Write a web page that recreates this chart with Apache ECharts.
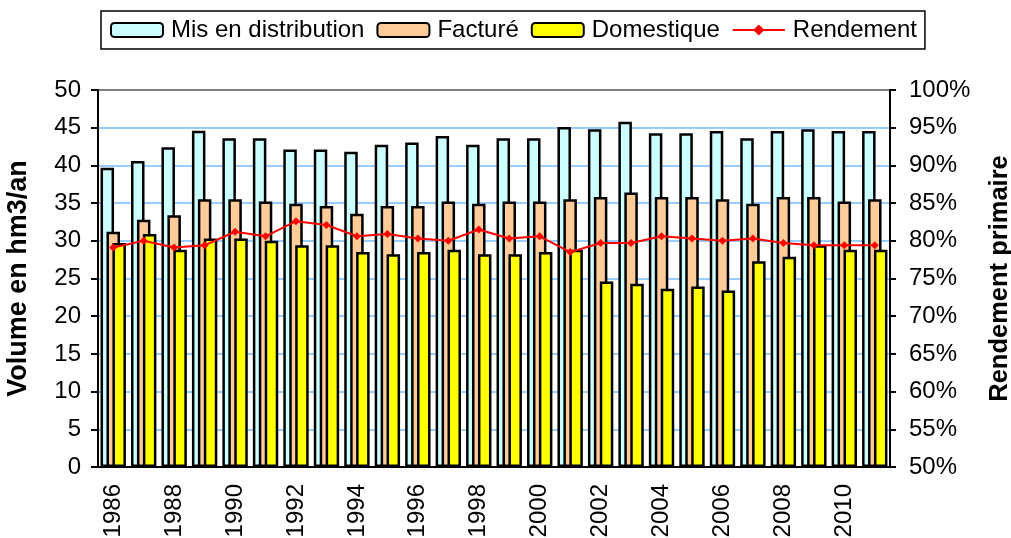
<!DOCTYPE html>
<html>
<head>
<meta charset="utf-8">
<script src="https://cdn.jsdelivr.net/npm/echarts@6/dist/echarts.min.js"></script>
<style>
html,body{margin:0;padding:0;background:#fff;}
#chart{width:1011px;height:538px;}
</style>
</head>
<body>
<div id="chart"></div>
<script>
const years = ['1986','1987','1988','1989','1990','1991','1992','1993','1994','1995','1996','1997','1998','1999','2000','2001','2002','2003','2004','2005','2006','2007','2008','2009','2010','2011'];
const misEnDistribution = [39.7, 40.6, 42.4, 44.6, 43.6, 43.6, 42.1, 42.1, 41.8, 42.75, 43.05, 43.9, 42.75, 43.6, 43.6, 45.1, 44.8, 45.8, 44.25, 44.25, 44.55, 43.6, 44.55, 44.8, 44.55, 44.55];
const facture = [31.2, 32.8, 33.4, 35.5, 35.5, 35.2, 34.9, 34.6, 33.6, 34.6, 34.6, 35.2, 34.9, 35.2, 35.2, 35.5, 35.8, 36.4, 35.8, 35.8, 35.5, 34.9, 35.8, 35.8, 35.2, 35.5];
const domestique = [29.7, 30.9, 28.8, 30.3, 30.3, 30.0, 29.4, 29.4, 28.5, 28.2, 28.5, 28.8, 28.2, 28.2, 28.5, 28.8, 24.6, 24.3, 23.65, 23.95, 23.4, 27.3, 27.9, 29.4, 28.8, 28.8];
const rendement = [79.1, 80.0, 79.1, 79.4, 81.2, 80.6, 82.6, 82.1, 80.6, 80.9, 80.3, 80.0, 81.5, 80.3, 80.6, 78.5, 79.7, 79.7, 80.6, 80.3, 80.0, 80.3, 79.7, 79.4, 79.4, 79.4];

const FONT = '"Liberation Sans", Arial, sans-serif';
const chart = echarts.init(document.getElementById('chart'), null, {renderer: 'canvas'});

function barSeries(name, data, color) {
  return {
    name: name, type: 'bar', data: data, yAxisIndex: 0,
    barWidth: 13.5, barGap: '-56%',
    itemStyle: {color: color, borderColor: '#000', borderWidth: 2.5},
    emphasis: {disabled: true}
  };
}

chart.setOption({
  animation: false,
  backgroundColor: '#fff',
  textStyle: {fontFamily: FONT},
  grid: {left: 98, right: 121, top: 90, bottom: 71, show: true, borderColor: '#808080', borderWidth: 2, containLabel: false, outerBoundsMode: 'none'},
  legend: {
    left: 101, top: 11,
    padding: [7, 8, 7, 9],
    borderColor: '#000', borderWidth: 1.5,
    itemWidth: 52, itemHeight: 14, itemGap: 12,
    textStyle: {fontSize: 24, color: '#000', fontFamily: FONT, padding: [0, 0, 0, 3]},
    data: ['Mis en distribution', 'Facturé', 'Domestique', 'Rendement']
  },
  xAxis: {
    type: 'category', data: years, boundaryGap: true,
    axisLine: {lineStyle: {color: '#000', width: 2}},
    axisTick: {interval: 0, length: 6, lineStyle: {color: '#000', width: 2}},
    axisLabel: {interval: 1, rotate: 90, fontSize: 24, color: '#000', margin: 17, fontFamily: FONT},
    splitLine: {show: false}
  },
  yAxis: [
    {
      type: 'value', min: 0, max: 50, interval: 5,
      name: 'Volume en hm3/an', nameLocation: 'middle', nameRotate: 90, nameGap: 66,
      nameTextStyle: {fontSize: 27, fontWeight: 'bold', color: '#000', fontFamily: FONT},
      axisLine: {show: true, lineStyle: {color: '#000', width: 2}},
      axisTick: {show: true, length: 7, lineStyle: {color: '#000', width: 2}},
      axisLabel: {fontSize: 24, color: '#000', margin: 17, fontFamily: FONT},
      splitLine: {show: true, showMinLine: false, showMaxLine: false, lineStyle: {color: '#99ccff', width: 2}}
    },
    {
      type: 'value', min: 50, max: 100, interval: 5, position: 'right',
      name: 'Rendement primaire', nameLocation: 'middle', nameRotate: 90, nameGap: 97,
      nameTextStyle: {fontSize: 25.5, fontWeight: 'bold', color: '#000', fontFamily: FONT},
      axisLine: {show: true, lineStyle: {color: '#000', width: 2}},
      axisTick: {show: true, length: 6, lineStyle: {color: '#000', width: 2}},
      axisLabel: {fontSize: 24, color: '#000', margin: 19, formatter: '{value}%', fontFamily: FONT},
      splitLine: {show: false}
    }
  ],
  series: [
    barSeries('Mis en distribution', misEnDistribution, '#ccffff'),
    barSeries('Facturé', facture, '#ffcc99'),
    barSeries('Domestique', domestique, '#ffff00'),
    {
      name: 'Rendement', type: 'line', yAxisIndex: 1, data: rendement,
      symbol: 'diamond', symbolSize: 8,
      lineStyle: {color: '#ff0000', width: 2},
      itemStyle: {color: '#ff0000'},
      z: 5,
      emphasis: {disabled: true}
    }
  ]
});
</script>
</body>
</html>
